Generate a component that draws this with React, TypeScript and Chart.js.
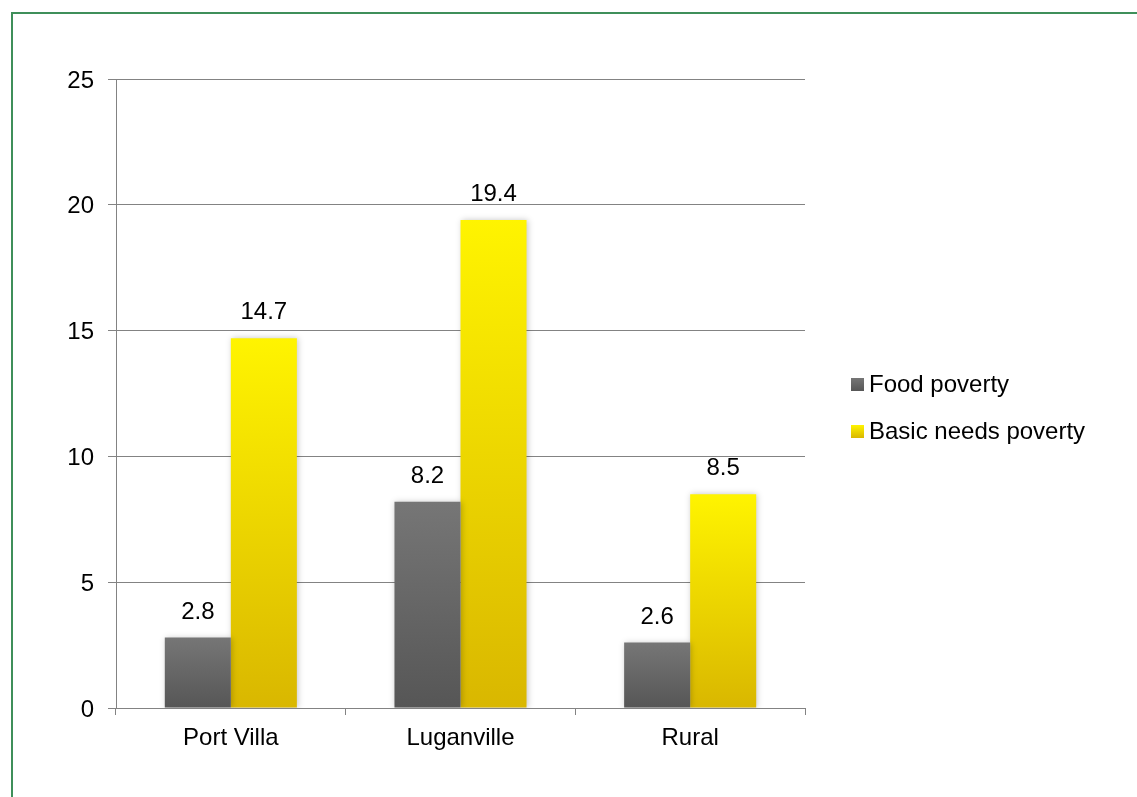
import React, { useEffect, useRef } from "react";
import { Chart, registerables } from "chart.js";

Chart.register(...registerables);

const categories = ["Port Villa", "Luganville", "Rural"];
const foodPoverty = [2.8, 8.2, 2.6];
const basicNeedsPoverty = [14.7, 19.4, 8.5];
const seriesNames = ["Food poverty", "Basic needs poverty"];
const yTicks = [0, 5, 10, 15, 20, 25];

const FONT = "'Liberation Sans', Arial, sans-serif";
const greyStops = ["#767676", "#565656"];
const yellowStops = ["#fff400", "#d9b700"];
const GRID = "#838383";

function barGradient(stops: string[]) {
  return (ctx: any) => {
    const chart = ctx.chart;
    if (!chart.chartArea || ctx.type !== "data") return stops[1];
    const y = chart.scales.y;
    const top = y.getPixelForValue(ctx.raw as number);
    const bottom = y.getPixelForValue(0);
    if (!isFinite(top) || !isFinite(bottom) || top === bottom) return stops[1];
    const g = chart.ctx.createLinearGradient(0, top, 0, bottom);
    g.addColorStop(0, stops[0]);
    g.addColorStop(1, stops[1]);
    return g;
  };
}

const shadowPlugin = {
  id: "barShadow",
  beforeDatasetsDraw(chart: any) {
    const c = chart.ctx;
    c.save();
    c.shadowColor = "rgba(0,0,0,0.22)";
    c.shadowBlur = 6;
    c.shadowOffsetX = 1;
    c.shadowOffsetY = 0;
  },
  afterDatasetsDraw(chart: any) {
    chart.ctx.restore();
  },
};

const valueLabelPlugin = {
  id: "valueLabels",
  afterDatasetsDraw(chart: any) {
    const c = chart.ctx;
    c.save();
    c.font = `24px ${FONT}`;
    c.fillStyle = "#000";
    c.textAlign = "center";
    c.textBaseline = "alphabetic";
    chart.data.datasets.forEach((ds: any, i: number) => {
      const meta = chart.getDatasetMeta(i);
      meta.data.forEach((bar: any, j: number) => {
        const v = ds.data[j];
        c.fillText(String(v), bar.x, bar.y - 19);
      });
    });
    c.restore();
  },
};

const legendPlugin = {
  id: "sideLegend",
  afterDraw(chart: any) {
    const c = chart.ctx;
    const stopsList = [greyStops, yellowStops];
    c.save();
    c.font = `24px ${FONT}`;
    c.fillStyle = "#000";
    c.textAlign = "left";
    c.textBaseline = "middle";
    chart.data.datasets.forEach((ds: any, i: number) => {
      const cy = 384.5 + i * 47;
      const sx = 851;
      const sy = cy - 6.5;
      const g = c.createLinearGradient(0, sy, 0, sy + 13);
      g.addColorStop(0, stopsList[i][0]);
      g.addColorStop(1, stopsList[i][1]);
      c.fillStyle = g;
      c.fillRect(sx, sy, 13, 13);
      c.fillStyle = "#000";
      c.fillText(ds.label, 869, cy + 1);
    });
    c.restore();
  },
};

export default function App() {
  const ref = useRef<HTMLCanvasElement | null>(null);

  useEffect(() => {
    if (!ref.current) return;
    const chart = new Chart(ref.current, {
      type: "bar",
      data: {
        labels: categories,
        datasets: [
          {
            label: seriesNames[0],
            data: foodPoverty,
            backgroundColor: barGradient(greyStops) as any,
            borderWidth: 0,
          },
          {
            label: seriesNames[1],
            data: basicNeedsPoverty,
            backgroundColor: barGradient(yellowStops) as any,
            borderWidth: 0,
          },
        ],
      },
      options: {
        animation: false,
        responsive: false,
        devicePixelRatio: 1,
        layout: { padding: { left: 0, top: 79, right: 332, bottom: 0 } },
        datasets: {
          bar: { categoryPercentage: 0.575, barPercentage: 1 },
        },
        plugins: {
          legend: { display: false },
          tooltip: { enabled: false },
          title: { display: false },
        },
        scales: {
          x: {
            grid: {
              display: true,
              drawOnChartArea: false,
              drawTicks: true,
              tickLength: 7,
              color: GRID,
              lineWidth: 1,
              offset: true,
            },
            border: { display: true, color: GRID, width: 1 },
            ticks: {
              color: "#000",
              font: { family: FONT, size: 24 },
              padding: 9,
              maxRotation: 0,
            },
            afterFit(scale: any) {
              scale.height = 89;
            },
          },
          y: {
            min: 0,
            max: 25,
            afterBuildTicks(scale: any) {
              scale.ticks = yTicks.map((v) => ({ value: v }));
            },
            grid: {
              color: GRID,
              lineWidth: 1,
              drawTicks: true,
              tickLength: 8,
            },
            border: { display: true, color: GRID, width: 1 },
            ticks: {
              color: "#000",
              font: { family: FONT, size: 24 },
              padding: 14,
              labelOffset: 2,
            },
            afterFit(scale: any) {
              scale.width = 116;
            },
          },
        },
      },
      plugins: [shadowPlugin, valueLabelPlugin, legendPlugin],
    });
    return () => chart.destroy();
  }, []);

  return (
    <div
      style={{
        position: "fixed",
        left: 0,
        top: 0,
        width: 1137,
        height: 797,
        background: "#fff",
        overflow: "hidden",
      }}
    >
      <div
        style={{
          position: "absolute",
          left: 11,
          top: 12,
          width: 2000,
          height: 2000,
          border: "2px solid #3f8f5a",
          boxSizing: "border-box",
        }}
      />
      <canvas
        ref={ref}
        width={1137}
        height={797}
        style={{ position: "absolute", left: 0, top: 0, width: 1137, height: 797 }}
      />
    </div>
  );
}
